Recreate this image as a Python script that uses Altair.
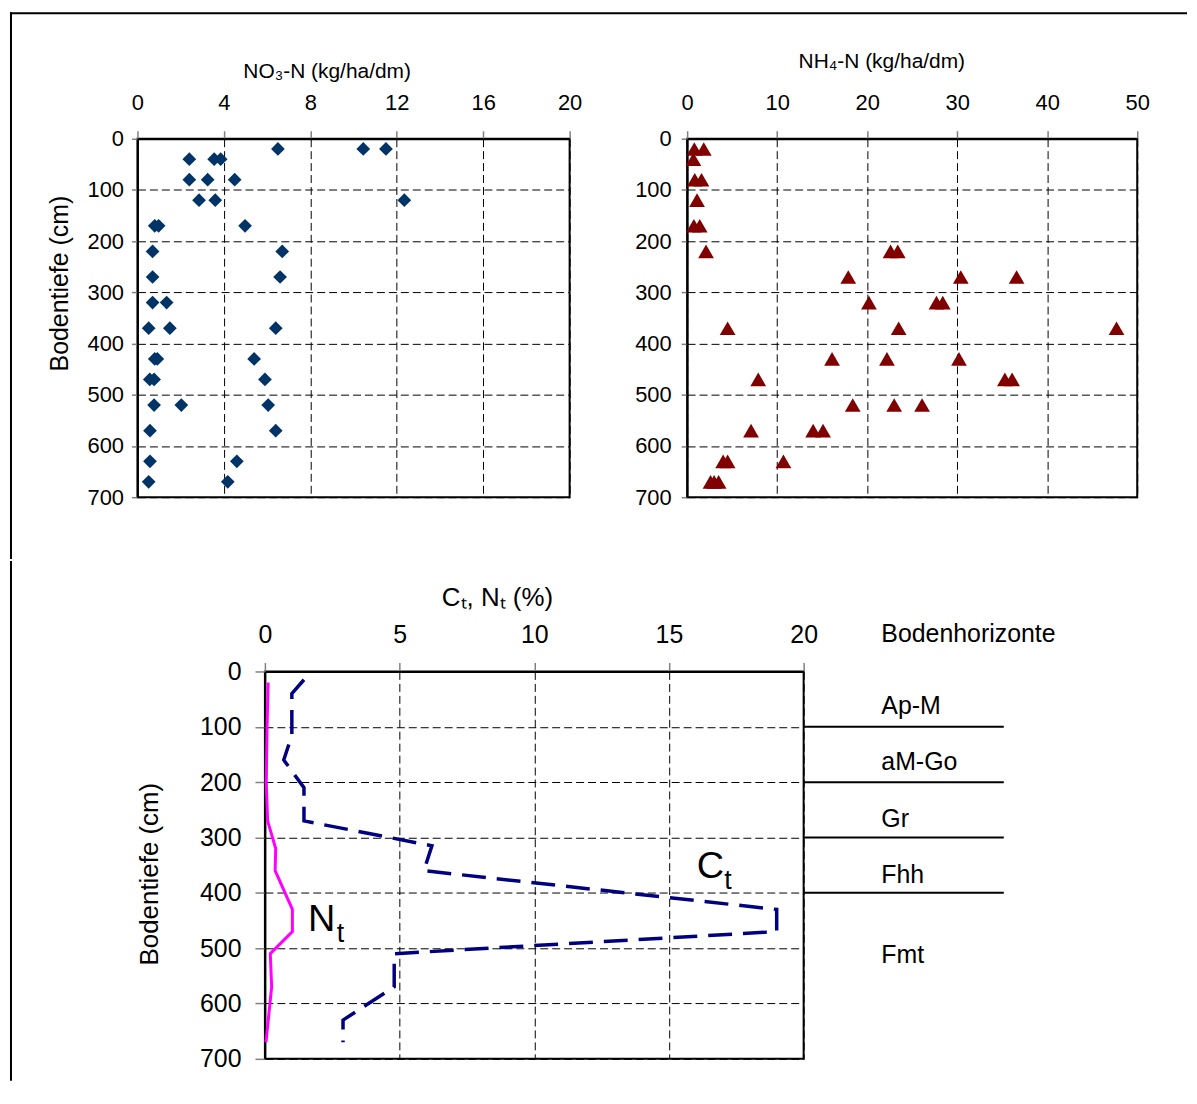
import altair as alt
import pandas as pd

# ---------------- data ----------------
no3_depth = [20, 20, 20, 40, 40, 40, 80, 80, 80, 120, 120, 120, 170, 170, 170,
             220, 220, 270, 270, 320, 320, 370, 370, 370, 430, 430, 430,
             470, 470, 470, 520, 520, 520, 570, 570, 630, 630, 670, 670]
no3_value = [6.5, 10.45, 11.5, 2.4, 3.55, 3.85, 2.4, 3.25, 4.5, 2.85, 3.6, 12.35,
             0.8, 0.98, 4.98, 0.7, 6.7, 0.7, 6.6, 0.7, 1.35, 0.52, 1.5, 6.4,
             0.8, 0.92, 5.4, 0.57, 0.77, 5.9, 0.77, 2.03, 6.05, 0.58, 6.4,
             0.58, 4.6, 0.52, 4.18]

nh4_depth = [20, 20, 40, 80, 80, 120, 170, 170, 220, 220, 220, 270, 270, 270,
             320, 320, 320, 370, 370, 370, 430, 430, 430, 470, 470, 470,
             520, 520, 520, 570, 570, 570, 630, 630, 630, 670, 670, 670]
nh4_value = [0.8, 1.85, 0.7, 0.85, 1.6, 1.1, 0.75, 1.4, 2.1, 22.6, 23.4,
             17.9, 30.4, 36.6, 20.2, 27.7, 28.4, 4.5, 23.5, 47.7,
             16.1, 22.2, 30.2, 7.9, 35.3, 36.1, 18.4, 23.0, 26.1,
             7.1, 14.0, 15.1, 4.0, 4.5, 10.7, 2.6, 3.0, 3.5]

ct_depth = [15, 40, 115, 160, 210, 270, 315, 360, 430, 470, 510, 570, 630, 670]
ct_value = [1.45, 1.0, 1.0, 0.7, 1.45, 1.45, 6.2, 5.9, 19.0, 19.0, 4.8, 4.8, 2.9, 2.9]

nt_depth = [20, 100, 200, 270, 320, 360, 430, 470, 510, 570, 670]
nt_value = [0.12, 0.08, 0.05, 0.1, 0.4, 0.38, 1.02, 1.02, 0.2, 0.25, 0.04]

horizon_bounds = [100, 200, 300, 400]
horizon_names = ["Ap-M", "aM-Go", "Gr", "Fhh", "Fmt"]
horizon_label_depth = [62, 163, 266, 367, 512]

curve_letters = ["C", "N"]
curve_letter_x = [16.54, 2.11]
curve_letter_depth = [354, 449]
curve_sub = ["t", "t"]
curve_sub_x = [17.19, 2.81]
curve_sub_depth = [379, 474]

depth_ticks = [0, 100, 200, 300, 400, 500, 600, 700]
no3_ticks = [0, 4, 8, 12, 16, 20]
nh4_ticks = [0, 10, 20, 30, 40, 50]
ctnt_ticks = [0, 5, 10, 15, 20]

FONT = "Liberation Sans"

no3_df = pd.DataFrame({"depth": no3_depth, "value": no3_value})
nh4_df = pd.DataFrame({"depth": nh4_depth, "value": nh4_value})
ct_df = pd.DataFrame({"depth": ct_depth, "value": ct_value,
                      "order": list(range(len(ct_depth)))})
nt_df = pd.DataFrame({"depth": nt_depth, "value": nt_value,
                      "order": list(range(len(nt_depth)))})
hb_df = pd.DataFrame({"depth": horizon_bounds})
hn_df = pd.DataFrame({"depth": horizon_label_depth, "name": horizon_names})
letter_df = pd.DataFrame({"depth": curve_letter_depth, "value": curve_letter_x,
                          "txt": curve_letters})
sub_df = pd.DataFrame({"depth": curve_sub_depth, "value": curve_sub_x,
                       "txt": curve_sub})
one_df = pd.DataFrame({"txt": ["Bodenhorizonte"]})


def depth_y(title, title_x, title_y, label_size, title_size, tick, pad):
    return alt.Y(
        "depth:Q",
        scale=alt.Scale(domain=[0, 700], reverse=True, nice=False, zero=False),
        axis=alt.Axis(values=depth_ticks, title=title, titleX=title_x,
                      titleY=title_y, titleAlign="center",
                      titleBaseline="middle", titleAngle=-90,
                      titleFontSize=title_size, labelFontSize=label_size,
                      tickSize=tick, labelPadding=pad),
    )


def value_x(domain, ticks, title, title_x, title_y, label_size, title_size,
            tick, pad):
    return alt.X(
        "value:Q",
        scale=alt.Scale(domain=domain, nice=False, zero=False),
        axis=alt.Axis(orient="top", values=ticks, title=title, titleX=title_x,
                      titleY=title_y, titleAlign="center",
                      titleBaseline="middle", titleFontSize=title_size,
                      labelFontSize=label_size, tickSize=tick,
                      labelPadding=pad),
    )


# ---------------- top left: NO3-N ----------------
tl_x = value_x([0, 20], no3_ticks, "NO₃-N (kg/ha/dm)", 190, -67, 22, 21, 8, 16)
tl_y = depth_y("Bodentiefe (cm)", -78, 145, 22, 25, 6, 8)

tl_points = alt.Chart(no3_df).mark_point(
    shape="diamond", filled=True, size=190, color="#003366", opacity=1
).encode(x=tl_x, y=tl_y)

# outer frame of the figure (decoration), upper part
frame_top = alt.Chart(one_df).mark_rule(
    color="black", strokeWidth=2, strokeCap="square"
).encode(x=alt.value(-127), x2=alt.value(1053), y=alt.value(-126))
frame_left_a = alt.Chart(one_df).mark_rule(
    color="black", strokeWidth=2, strokeCap="square"
).encode(x=alt.value(-127), y=alt.value(-126), y2=alt.value(421))

top_left = alt.layer(tl_points, frame_top, frame_left_a).properties(
    width=434, height=360)

# ---------------- top right: NH4-N ----------------
tr_x = value_x([0, 50], nh4_ticks, "NH₄-N (kg/ha/dm)", 195, -78, 22, 21, 8, 16)
tr_y = depth_y("", -60, 145, 22, 25, 6, 10)

top_right = alt.Chart(nh4_df).mark_point(
    shape="triangle-up", filled=True, size=250, color="#800000", opacity=1
).encode(x=tr_x, y=tr_y).properties(width=452, height=360)

top_row = alt.hconcat(top_left, top_right, spacing=118, bounds="flush")

# ---------------- bottom: Ct / Nt profile ----------------
b_x = value_x([0, 20], ctnt_ticks, "Cₜ, Nₜ (%)", 233, -74, 25, 26, 9, 15)
b_y = depth_y("Bodentiefe (cm)", -116, 203, 25, 26, 10, 14)

ct_line = alt.Chart(ct_df).mark_line(
    color="#000080", strokeWidth=3.5, strokeDash=[24, 11]
).encode(x=b_x, y=b_y, order="order:Q")

nt_line = alt.Chart(nt_df).mark_line(
    color="#FF00FF", strokeWidth=3
).encode(x=b_x, y=b_y, order="order:Q")

letters = alt.Chart(letter_df).mark_text(
    font=FONT, fontSize=38, color="black", align="center", baseline="middle"
).encode(x=b_x, y=b_y, text="txt:N")

subs = alt.Chart(sub_df).mark_text(
    font=FONT, fontSize=27, color="black", align="center", baseline="middle"
).encode(x=b_x, y=b_y, text="txt:N")

h_lines = alt.Chart(hb_df).mark_rule(color="black", strokeWidth=2).encode(
    y=b_y, x=alt.value(541), x2=alt.value(742))

h_names = alt.Chart(hn_df).mark_text(
    font=FONT, fontSize=25, color="black", align="left", baseline="middle"
).encode(y=b_y, x=alt.value(619), text="name:N")

h_header = alt.Chart(one_df).mark_text(
    font=FONT, fontSize=25, color="black", align="left", baseline="middle"
).encode(x=alt.value(619), y=alt.value(-38), text="txt:N")

# outer frame of the figure (decoration), lower part
frame_left_b = alt.Chart(one_df).mark_rule(
    color="black", strokeWidth=2, strokeCap="square"
).encode(x=alt.value(-255), y=alt.value(-110), y2=alt.value(410))

bottom = alt.layer(nt_line, ct_line, letters, subs, h_lines, h_names,
                   h_header, frame_left_b).properties(width=541, height=389)

spacer = alt.Chart(one_df).mark_point(opacity=0).encode(
    x=alt.value(0), y=alt.value(0)
).properties(width=10, height=10,
             view=alt.ViewBackground(stroke="transparent"))

bottom_row = alt.hconcat(spacer, bottom, spacing=118, bounds="flush")

chart = alt.vconcat(
    top_row, bottom_row, spacing=-2
).properties(
    padding=0
).configure_axis(
    labelFont=FONT, titleFont=FONT, labelColor="black", titleColor="black",
    titleFontWeight="normal", grid=True, gridColor="black", gridDash=[8, 4],
    gridWidth=1, domainColor="black", domainWidth=2, tickColor="#808080",
    tickWidth=1.5, labelFlush=False, labelOverlap=False
).configure_view(
    stroke="black", strokeWidth=2
)

chart.save("out.html", embed_options={"renderer": "svg", "actions": False})
